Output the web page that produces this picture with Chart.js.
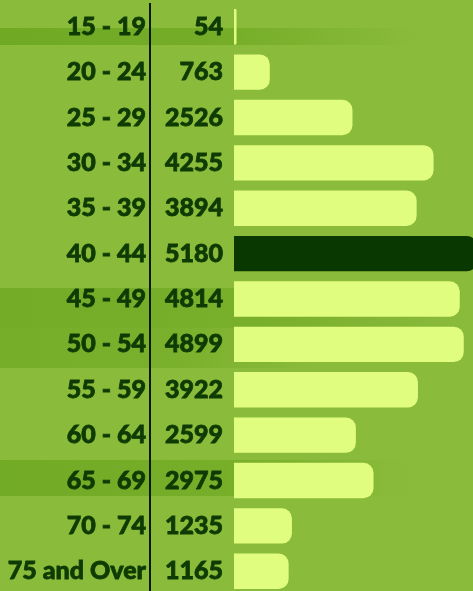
<!DOCTYPE html>
<html>
<head>
<meta charset="utf-8">
<script src="https://cdn.jsdelivr.net/npm/chart.js@4/dist/chart.umd.min.js"></script>
<style>
  html, body { margin: 0; padding: 0; overflow: hidden; background: #8bbb3b; }
  #wrap { width: 473px; height: 596px; }
</style>
</head>
<body>
<div id="wrap"><canvas id="bars"></canvas></div>
<script>
const ageGroups = ['15 - 19', '20 - 24', '25 - 29', '30 - 34', '35 - 39', '40 - 44', '45 - 49',
                   '50 - 54', '55 - 59', '60 - 64', '65 - 69', '70 - 74', '75 and Over'];
const counts = [54, 763, 2526, 4255, 3894, 5180, 4814, 4899, 3922, 2599, 2975, 1235, 1165];
const countLabels = counts.map(String);

const barColor = '#e0fd7f';
const topColor = '#093800';
const textColor = '#0e3a04';
const maxCount = Math.max(...counts);

// brush-like darker streaks behind the chart
const streaks = {
    id: 'streaks',
    beforeDraw(chart) {
        const c = chart.ctx;
        c.save();
        c.fillStyle = '#8bbb3b';
        c.fillRect(0, 0, chart.width, chart.height);
        const band = (y, h, x1, alpha) => {
            const g = c.createLinearGradient(0, 0, x1, 0);
            g.addColorStop(0, 'rgba(100,162,26,' + alpha + ')');
            g.addColorStop(0.55, 'rgba(100,162,26,' + alpha * 0.8 + ')');
            g.addColorStop(1, 'rgba(100,162,26,0)');
            c.fillStyle = g;
            c.fillRect(0, y, x1, h);
        };
        band(28, 17, 420, 0.7);
        band(288, 40, 473, 0.6);
        band(328, 40, 320, 0.55);
        band(460, 36, 410, 0.65);
        c.restore();
    }
};

const fontSpec = { family: 'Lato', size: 25, weight: 900 };

// stop label heights from shrinking the plot area
function fixAxis(width) {
    return function (scale) {
        scale.width = width;
        scale.paddingTop = 0;
        scale.paddingBottom = 0;
    };
}

new Chart(document.getElementById('bars'), {
    type: 'bar',
    data: {
        labels: countLabels,
        datasets: [{
            data: counts,
            backgroundColor: counts.map(v => v === maxCount ? topColor : barColor),
            borderRadius: 10,
            borderSkipped: 'start',
            barPercentage: 0.78,
            categoryPercentage: 1
        }]
    },
    options: {
        indexAxis: 'y',
        responsive: true,
        maintainAspectRatio: false,
        animation: false,
        layout: { padding: { top: 4, bottom: 2, left: 0, right: 0 } },
        plugins: {
            legend: { display: false },
            tooltip: { enabled: false }
        },
        scales: {
            x: {
                min: 0,
                max: 5096,
                display: false
            },
            y: {
                position: 'left',
                grid: { display: false, drawTicks: false },
                border: { display: false },
                ticks: {
                    color: textColor, font: fontSpec, padding: 11,
                    textStrokeColor: textColor, textStrokeWidth: 0.8
                },
                afterFit: fixAxis(84)
            },
            yAge: {
                type: 'category',
                labels: ageGroups,
                position: 'left',
                grid: { display: false, drawTicks: false },
                border: { display: true, color: '#0b1a00', width: 2 },
                ticks: {
                    color: textColor, font: fontSpec, padding: 4,
                    textStrokeColor: textColor, textStrokeWidth: 0.8
                },
                afterFit: fixAxis(150)
            }
        }
    },
    plugins: [streaks]
});
</script>
</body>
</html>
